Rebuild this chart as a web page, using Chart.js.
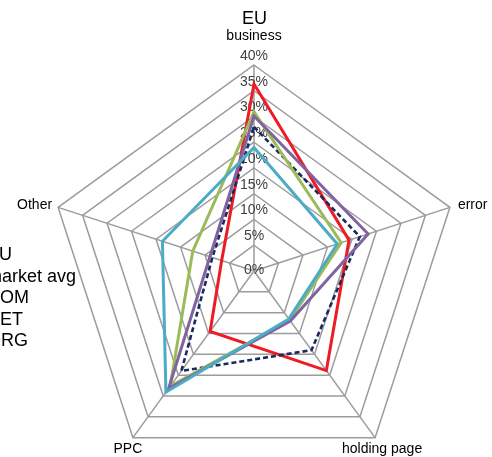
<!DOCTYPE html>
<html>
<head>
<meta charset="utf-8">
<script src="https://cdn.jsdelivr.net/npm/chart.js@4.4.1/dist/chart.umd.min.js"></script>
<style>
    body { margin: 0; overflow: hidden; background: #fff; width: 492px; height: 457px; position: relative; }
    #chart { position: absolute; left: 0; top: 0; }
    #legend { position: absolute; left: -13px; top: 244px; font: 18px "Liberation Sans", Arial, sans-serif; line-height: 21.6px; color: #000; white-space: nowrap; }
</style>
</head>
<body>
<canvas id="chart" width="492" height="513"></canvas>
<div id="legend"></div>
<script>
const categories = ["business", "error", "holding page", "PPC", "Other"];
const seriesNames = ["EU", "market avg", "COM", "NET", "ORG"];
const euValues = [36.3, 19.4, 23.9, 14.5, 6.6];
const avgValues = [28, 21.6, 19, 24, 8.5];
const comValues = [30.9, 17.8, 11.8, 27.7, 12.5];
const netValues = [30.1, 23.3, 12, 28.2, 9];
const orgValues = [24, 17, 11.5, 29.1, 18.7];
const tickValues = [0, 5, 10, 15, 20, 25, 30, 35, 40];

const seriesValues = [euValues, avgValues, comValues, netValues, orgValues];
const seriesColors = ["#ED1C24", "#1B2A5C", "#9BBB59", "#8064A2", "#4BACC6"];

// tick and category labels sit a little off the ring vertices, like the original
const axisText = {
    id: "axisText",
    beforeDatasetsDraw(chart) {
        const r = chart.scales.r;
        const ctx = chart.ctx;
        ctx.save();
        ctx.font = '14px "Liberation Sans", Arial, sans-serif';
        ctx.textBaseline = "middle";
        ctx.textAlign = "center";
        ctx.fillStyle = "#404040";
        r.ticks.forEach(t => {
            const d = r.getDistanceFromCenterForValue(t.value);
            const y = t.value === 0 ? r.yCenter - 1 : r.yCenter - d - 9;
            ctx.fillText(t.label, r.xCenter, y);
        });
        ctx.fillStyle = "#000";
        const offsets = [[0, -29, "center"], [8, -2, "left"], [7, 11, "center"], [-5, 11, "center"], [-6, -2, "right"]];
        categories.forEach((name, i) => {
            const p = r.getPointPositionForValue(i, r.max);
            ctx.textAlign = offsets[i][2];
            ctx.fillText(name, p.x + offsets[i][0], p.y + offsets[i][1]);
        });
        ctx.restore();
    }
};

const datasets = seriesNames.map((name, i) => ({
    label: name,
    data: seriesValues[i],
    borderColor: seriesColors[i],
    backgroundColor: seriesColors[i],
    borderWidth: i === 1 ? 2.6 : 3,
    borderDash: i === 1 ? [5, 3] : [],
    borderJoinStyle: "miter",
    fill: false,
    pointRadius: 0,
    order: seriesNames.length - i,
}));

new Chart(document.getElementById("chart"), {
    type: "radar",
    data: { labels: categories, datasets: datasets },
    plugins: [axisText],
    options: {
        responsive: false,
        animation: false,
        layout: { padding: { left: 48, right: 31, top: 0, bottom: 0 } },
        plugins: {
            legend: { display: false },
            tooltip: { enabled: false },
            title: {
                display: true,
                text: "EU",
                color: "#000",
                font: { size: 18, family: '"Liberation Sans", Arial, sans-serif', weight: "normal" },
                padding: { top: 8, bottom: 0 },
            },
        },
        scales: {
            r: {
                min: 0,
                max: 40,
                afterBuildTicks: scale => { scale.ticks = tickValues.map(v => ({ value: v })); },
                ticks: { display: false, stepSize: 5, callback: v => v + "%" },
                pointLabels: { display: false },
                grid: { color: "#9c9c9c", lineWidth: 1.5 },
                angleLines: { color: "#9c9c9c", lineWidth: 1.5 },
            },
        },
    },
});

document.getElementById("legend").innerHTML = seriesNames.map(n => `<div>${n}</div>`).join("");
</script>
</body>
</html>
